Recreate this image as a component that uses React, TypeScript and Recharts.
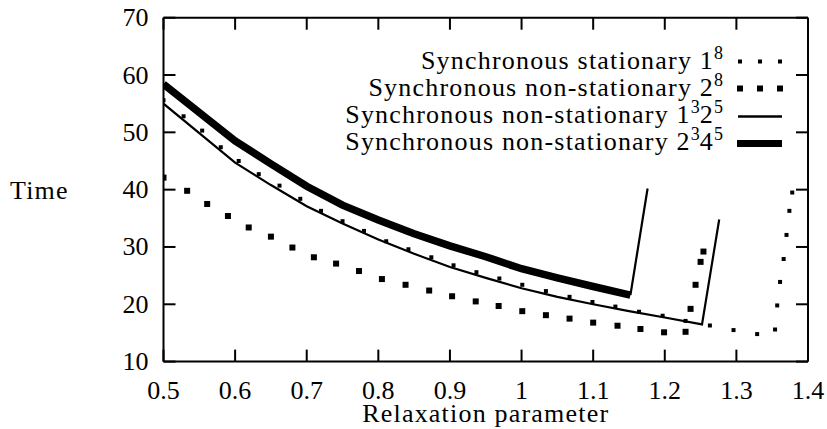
import React from 'react';
import { ComposedChart, Line, Scatter, XAxis, YAxis, Legend, Label } from 'recharts';

const FONT = "'Liberation Serif', 'Times New Roman', serif";

const xTicks = [0.5, 0.6, 0.7, 0.8, 0.9, 1, 1.1, 1.2, 1.3, 1.4];
const yTicks = [10, 20, 30, 40, 50, 60, 70];

// Synchronous stationary 1^8 (small dots)
const statX = [0.5, 0.528, 0.554, 0.58, 0.605, 0.633, 0.662, 0.691, 0.72, 0.75, 0.78, 0.811, 0.842, 0.874, 0.905, 0.937, 0.969, 1.001, 1.034, 1.067, 1.099, 1.131, 1.164, 1.197, 1.229, 1.263, 1.296, 1.329, 1.354, 1.357, 1.361, 1.366, 1.37, 1.374, 1.378];
const statY = [55.6, 52.8, 50.3, 47.4, 45.0, 42.7, 40.7, 38.4, 36.3, 34.5, 32.8, 31.0, 29.6, 28.2, 26.8, 25.6, 24.5, 23.4, 22.3, 21.3, 20.4, 19.6, 18.7, 18.0, 17.1, 16.3, 15.5, 14.8, 15.6, 19.8, 23.9, 27.9, 32.1, 36.3, 39.5];

// Synchronous non-stationary 2^8 (squares)
const ns2X = [0.5, 0.533, 0.561, 0.59, 0.619, 0.65, 0.68, 0.71, 0.741, 0.773, 0.805, 0.838, 0.871, 0.903, 0.936, 0.968, 1.001, 1.034, 1.067, 1.1, 1.134, 1.166, 1.199, 1.229, 1.236, 1.243, 1.25, 1.254];
const ns2Y = [42.1, 39.8, 37.5, 35.4, 33.4, 31.8, 29.9, 28.2, 27.1, 25.8, 24.4, 23.4, 22.4, 21.4, 20.5, 19.7, 18.8, 18.1, 17.5, 16.8, 16.26, 15.69, 15.11, 15.2, 19.2, 23.4, 27.4, 29.2];

// Synchronous non-stationary 1^3 2^5 (thin line)
const ns125X = [0.5, 0.6, 0.65, 0.7, 0.75, 0.8, 0.85, 0.9, 0.95, 1.0, 1.05, 1.1, 1.15, 1.2, 1.252, 1.276];
const ns125Y = [55.0, 44.7, 40.8, 37.1, 34.1, 31.3, 28.8, 26.5, 24.6, 22.8, 21.3, 20.0, 18.8, 17.7, 16.5, 34.8];

// Synchronous non-stationary 2^3 4^5 (thick line) and its final rise
const ns245X = [0.5, 0.6, 0.65, 0.7, 0.75, 0.8, 0.85, 0.9, 0.95, 1.0, 1.05, 1.1, 1.152];
const ns245Y = [58.4, 48.5, 44.5, 40.6, 37.3, 34.7, 32.3, 30.2, 28.3, 26.2, 24.6, 23.1, 21.6];
const ns245RiseX = [1.152, 1.176];
const ns245RiseY = [21.6, 40.2];

const legendRows = [
  { base: 'Synchronous stationary 1', parts: [['8', '']], kind: 'dots' },
  { base: 'Synchronous non-stationary 2', parts: [['8', '']], kind: 'squares' },
  { base: 'Synchronous non-stationary 1', parts: [['3', '2'], ['5', '']], kind: 'thin' },
  { base: 'Synchronous non-stationary 2', parts: [['3', '4'], ['5', '']], kind: 'thick' },
];

const toPts = (xs: number[], ys: number[]) => xs.map((x, i) => ({ x, y: ys[i] }));

const statData = toPts(statX, statY);
const ns2Data = toPts(ns2X, ns2Y);
const ns125Data = toPts(ns125X, ns125Y);
const ns245Data = toPts(ns245X, ns245Y);
const ns245RiseData = toPts(ns245RiseX, ns245RiseY);

const fmt = (v: number) => String(Math.round(v * 10) / 10);

const NUM_SIZE = 26;
const TXT_SIZE = 26;
const SPACING = '1.2px';

const BottomTick = (p: any) => (
  <g>
    <line x1={p.x} y1={p.y} x2={p.x} y2={p.y - 12} stroke="#000" strokeWidth={2} />
    <text x={p.x} y={p.y + 37} textAnchor="middle" fontSize={NUM_SIZE} fontFamily={FONT} fill="#000">
      {fmt(p.payload.value)}
    </text>
  </g>
);
const TopTick = (p: any) => (
  <line x1={p.x} y1={p.y} x2={p.x} y2={p.y + 12} stroke="#000" strokeWidth={2} />
);
const LeftTick = (p: any) => (
  <g>
    <line x1={p.x} y1={p.y} x2={p.x + 12} y2={p.y} stroke="#000" strokeWidth={2} />
    <text x={p.x - 15} y={p.y + 8.5} textAnchor="end" fontSize={NUM_SIZE} fontFamily={FONT} fill="#000">
      {fmt(p.payload.value)}
    </text>
  </g>
);
const RightTick = (p: any) => (
  <line x1={p.x} y1={p.y} x2={p.x - 12} y2={p.y} stroke="#000" strokeWidth={2} />
);

const dotShape = (p: any) => <rect x={p.cx - 2} y={p.cy - 2} width={4} height={4} fill="#000" />;
const squareShape = (p: any) => <rect x={p.cx - 3} y={p.cy - 3} width={6} height={6} fill="#000" />;

const Sample = ({ kind }: { kind: string }) => (
  <svg width={46} height={27} style={{ marginLeft: 14, display: 'block' }}>
    {kind === 'dots' && [3, 23, 43].map((cx) => <rect key={cx} x={cx - 2} y={11.5} width={4} height={4} fill="#000" />)}
    {kind === 'squares' && [3, 23, 43].map((cx) => <rect key={cx} x={cx - 3} y={10.5} width={6} height={6} fill="#000" />)}
    {kind === 'thin' && <line x1={1} y1={13.5} x2={45} y2={13.5} stroke="#000" strokeWidth={2.5} />}
    {kind === 'thick' && <line x1={0} y1={13.5} x2={45} y2={13.5} stroke="#000" strokeWidth={7} />}
  </svg>
);

const renderLegend = () => (
  <div style={{ fontFamily: FONT, fontSize: TXT_SIZE, color: '#000' }}>
    {legendRows.map((r, i) => (
      <div key={i} style={{ height: 27.2, lineHeight: '27.2px', display: 'flex', justifyContent: 'flex-end', alignItems: 'center' }}>
        <span style={{ whiteSpace: 'nowrap', letterSpacing: SPACING }}>
          {r.base}
          {r.parts.map((pt, j) => (
            <React.Fragment key={j}>
              <sup style={{ fontSize: 18, verticalAlign: 'baseline', position: 'relative', top: -10, letterSpacing: 0 }}>{pt[0]}</sup>
              {pt[1]}
            </React.Fragment>
          ))}
        </span>
        <Sample kind={r.kind} />
      </div>
    ))}
  </div>
);

const XTitle = (props: any) => {
  const vb = props.viewBox;
  return (
    <text x={vb.x + vb.width / 2} y={vb.y + 60.5} textAnchor="middle" fontSize={TXT_SIZE} fontFamily={FONT} fill="#000" style={{ letterSpacing: SPACING }}>
      Relaxation parameter
    </text>
  );
};
const YTitle = (props: any) => {
  const vb = props.viewBox;
  return (
    <text x={10} y={vb.y + vb.height / 2 + 9.5} textAnchor="start" fontSize={TXT_SIZE} fontFamily={FONT} fill="#000" style={{ letterSpacing: SPACING }}>
      Time
    </text>
  );
};

export default function App() {
  return (
    <div style={{ position: 'absolute', left: 0, top: 0 }}>
      <ComposedChart width={827} height={429} margin={{ top: 16.7, right: 18, bottom: 7.4, left: 0 }}>
        <XAxis
          xAxisId={0}
          dataKey="x"
          type="number"
          domain={[0.5, 1.4]}
          ticks={xTicks}
          interval={0}
          allowDataOverflow
          height={60}
          tickSize={0}
          tickMargin={0}
          tickLine={false}
          axisLine={{ stroke: '#000', strokeWidth: 2 }}
          tick={BottomTick}
        >
          <Label content={XTitle} />
        </XAxis>
        <XAxis
          xAxisId="top"
          orientation="top"
          dataKey="x"
          type="number"
          domain={[0.5, 1.4]}
          ticks={xTicks}
          interval={0}
          allowDataOverflow
          height={1}
          tickSize={0}
          tickMargin={0}
          tickLine={false}
          axisLine={{ stroke: '#000', strokeWidth: 2 }}
          tick={TopTick}
        />
        <YAxis
          yAxisId={0}
          type="number"
          domain={[10, 70]}
          ticks={yTicks}
          interval={0}
          allowDataOverflow
          width={163.5}
          tickSize={0}
          tickMargin={0}
          tickLine={false}
          axisLine={{ stroke: '#000', strokeWidth: 2 }}
          tick={LeftTick}
        >
          <Label content={YTitle} />
        </YAxis>
        <YAxis
          yAxisId="right"
          orientation="right"
          type="number"
          domain={[10, 70]}
          ticks={yTicks}
          interval={0}
          allowDataOverflow
          width={1}
          tickSize={0}
          tickMargin={0}
          tickLine={false}
          axisLine={{ stroke: '#000', strokeWidth: 2 }}
          tick={RightTick}
        />
        <Legend
          layout="vertical"
          align="center"
          verticalAlign="middle"
          content={renderLegend}
          wrapperStyle={{ position: 'absolute', left: 0, top: 48.1, width: 783 }}
        />
        <Line data={ns125Data} dataKey="y" type="linear" stroke="#000" strokeWidth={2.2} dot={false} isAnimationActive={false} name="Synchronous non-stationary 1^3 2^5" />
        <Line data={ns245Data} dataKey="y" type="linear" stroke="#000" strokeWidth={7.5} dot={false} isAnimationActive={false} name="Synchronous non-stationary 2^3 4^5" />
        <Line data={ns245RiseData} dataKey="y" type="linear" stroke="#000" strokeWidth={2.2} dot={false} isAnimationActive={false} legendType="none" name="rise" />
        <Scatter data={statData} dataKey="y" shape={dotShape} isAnimationActive={false} name="Synchronous stationary 1^8" />
        <Scatter data={ns2Data} dataKey="y" shape={squareShape} isAnimationActive={false} name="Synchronous non-stationary 2^8" />
      </ComposedChart>
    </div>
  );
}
